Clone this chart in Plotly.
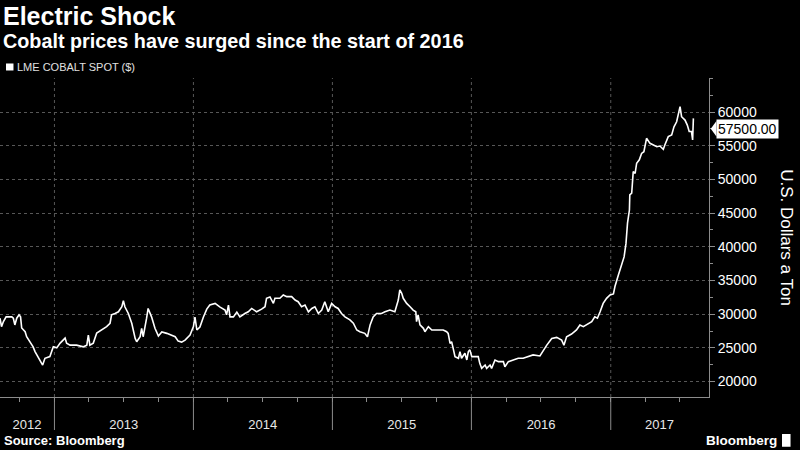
import plotly.graph_objects as go

# ---- data ----
dates = [
    "2012-08-11", "2012-08-15", "2012-08-20", "2012-08-27", "2012-09-11", "2012-09-15", "2012-09-19", "2012-09-24",
    "2012-09-30", "2012-10-04", "2012-10-07", "2012-10-16", "2012-10-20", "2012-10-29", "2012-11-06", "2012-11-11",
    "2012-11-20", "2012-12-01", "2012-12-07", "2012-12-20", "2012-12-29", "2013-01-07", "2013-01-16", "2013-01-24",
    "2013-01-29", "2013-02-02", "2013-02-11", "2013-02-28", "2013-03-18", "2013-03-27", "2013-03-31", "2013-04-04",
    "2013-04-13", "2013-04-22", "2013-05-05", "2013-05-18", "2013-05-27", "2013-05-31", "2013-06-09", "2013-06-18",
    "2013-06-27", "2013-07-01", "2013-07-05", "2013-07-14", "2013-07-23", "2013-08-01", "2013-08-05", "2013-08-14",
    "2013-08-18", "2013-08-22", "2013-08-31", "2013-09-04", "2013-09-13", "2013-09-22", "2013-10-01", "2013-10-10",
    "2013-10-23", "2013-11-05", "2013-11-14", "2013-11-22", "2013-12-01", "2013-12-10", "2013-12-23", "2014-01-01",
    "2014-01-05", "2014-01-10", "2014-01-18", "2014-01-27", "2014-02-05", "2014-02-13", "2014-02-27", "2014-03-12",
    "2014-03-25", "2014-03-29", "2014-04-03", "2014-04-07", "2014-04-16", "2014-04-25", "2014-05-03", "2014-05-16",
    "2014-05-25", "2014-06-03", "2014-06-16", "2014-06-29", "2014-07-08", "2014-07-12", "2014-07-21", "2014-07-30",
    "2014-08-03", "2014-08-16", "2014-08-25", "2014-09-03", "2014-09-16", "2014-09-25", "2014-10-03", "2014-10-12",
    "2014-10-21", "2014-10-30", "2014-11-08", "2014-11-16", "2014-11-25", "2014-12-04", "2014-12-12", "2014-12-21",
    "2014-12-30", "2015-01-08", "2015-01-16", "2015-01-25", "2015-02-03", "2015-02-16", "2015-02-25", "2015-03-06",
    "2015-03-14", "2015-03-27", "2015-04-03", "2015-04-10", "2015-04-18", "2015-04-27", "2015-05-10", "2015-05-19",
    "2015-06-01", "2015-06-14", "2015-06-23", "2015-06-27", "2015-07-02", "2015-07-06", "2015-07-15", "2015-07-24",
    "2015-08-01", "2015-08-08", "2015-08-10", "2015-08-14", "2015-08-19", "2015-08-28", "2015-09-01", "2015-09-10",
    "2015-09-19", "2015-10-06", "2015-10-19", "2015-10-28", "2015-11-01", "2015-11-06", "2015-11-10", "2015-11-14",
    "2015-11-19", "2015-11-28", "2015-12-02", "2015-12-06", "2015-12-15", "2015-12-20", "2015-12-24", "2015-12-28",
    "2016-01-02", "2016-01-19", "2016-01-23", "2016-01-28", "2016-02-06", "2016-02-10", "2016-02-19", "2016-02-23",
    "2016-03-03", "2016-03-12", "2016-03-25", "2016-03-29", "2016-04-07", "2016-04-20", "2016-05-03", "2016-05-16",
    "2016-05-29", "2016-06-11", "2016-06-29", "2016-07-08", "2016-07-17", "2016-07-30", "2016-08-12", "2016-08-25",
    "2016-08-31", "2016-09-07", "2016-09-20", "2016-10-03", "2016-10-12", "2016-10-21", "2016-11-03", "2016-11-12",
    "2016-11-20", "2016-11-27", "2016-12-04", "2016-12-12", "2016-12-21", "2016-12-30", "2017-01-08", "2017-01-12",
    "2017-01-21", "2017-01-30", "2017-02-05", "2017-02-10", "2017-02-14", "2017-02-19", "2017-02-20", "2017-02-25",
    "2017-03-01", "2017-03-06", "2017-03-10", "2017-03-17", "2017-03-23", "2017-03-29", "2017-04-03", "2017-04-05",
    "2017-04-14", "2017-04-23", "2017-05-02", "2017-05-10", "2017-05-19", "2017-05-23", "2017-06-01", "2017-06-10",
    "2017-06-16", "2017-06-23", "2017-06-27", "2017-07-02", "2017-07-06", "2017-07-15", "2017-07-21", "2017-07-26",
    "2017-08-01", "2017-08-04", "2017-08-06",
]
prices = [
    29400, 28150, 28900, 29600, 29600, 29400, 28400, 29400,
    29900, 29600, 27950, 27400, 26650, 25900, 25150, 24450,
    23450, 22450, 23450, 23700, 25150, 25000, 25700, 26150,
    26450, 25700, 25400, 25400, 25150, 25400, 26900, 25400,
    25700, 27200, 27650, 28150, 28650, 29900, 30100, 30350,
    31100, 32000, 31100, 30100, 28650, 26400, 25900, 26650,
    27900, 26650, 29400, 30850, 29600, 27900, 26750, 27350,
    27150, 26900, 26650, 26000, 25850, 26150, 26900, 28150,
    29550, 27650, 28100, 29550, 30750, 31350, 31600, 31050,
    30600, 29900, 31350, 29600, 29600, 30300, 29600, 30100,
    30350, 30850, 30350, 30750, 31100, 32350, 32550, 31600,
    32350, 32350, 32850, 32600, 32600, 32100, 31850, 31100,
    31350, 30350, 30850, 31100, 30100, 30600, 31850, 30350,
    31600, 31100, 30850, 30100, 29600, 29150, 28650, 27650,
    27400, 27150, 26650, 28400, 29600, 30100, 30100, 30350,
    30600, 30350, 32100, 33600, 33100, 32350, 31600, 31100,
    30600, 30350, 28900, 29900, 28400, 27900, 27400, 28150,
    27650, 27650, 27650, 27400, 27150, 25650, 25900, 24950,
    23700, 23450, 24450, 23450, 24200, 23200, 24450, 24700,
    23700, 23700, 22700, 21950, 22450, 21950, 22450, 21950,
    23200, 22950, 22950, 22200, 22950, 23200, 23450, 23450,
    23700, 23950, 23800, 24700, 25400, 26400, 26550, 26150,
    25400, 26650, 27050, 27650, 28400, 28150, 28650, 28900,
    29600, 29400, 30350, 31600, 32350, 32850, 33000, 34100,
    35800, 37300, 38500, 40500, 43500, 45450, 47700, 47950,
    51150, 50900, 52400, 52900, 53850, 54100, 55350, 56100,
    55350, 55100, 54850, 54950, 54450, 55100, 56350, 56600,
    57800, 58550, 59550, 60800, 59300, 58800, 58050, 57100,
    57100, 55850, 59050,
]
last_value = 57500.00

year_labels = ["2012", "2013", "2014", "2015", "2016", "2017"]
year_label_dates = ["2012-10-21", "2013-07-02", "2014-07-02", "2015-07-02", "2016-07-02", "2017-05-09"]
year_starts = ["2013-01-01", "2014-01-01", "2015-01-01", "2016-01-01", "2017-01-01"]
y_ticks = [20000, 25000, 30000, 35000, 40000, 45000, 50000, 55000, 60000]

x_range = ["2012-08-11", "2017-09-16"]
y_range = [17706, 65046]

title = "Electric Shock"
subtitle = "Cobalt prices have surged since the start of 2016"
legend_text = "LME COBALT SPOT ($)"
y_title = "U.S. Dollars a Ton"
source = "Source: Bloomberg"

FONT = "Liberation Sans, Arial, sans-serif"
GRID = "#575757"
AXIS = "#8c8c8c"

fig = go.Figure()
fig.add_trace(go.Scatter(
    x=dates, y=prices, mode="lines",
    line=dict(color="white", width=1.6),
    showlegend=False, hoverinfo="skip",
))

fig.update_layout(
    width=800, height=450,
    margin=dict(l=0, r=91, t=78, b=53),
    paper_bgcolor="black", plot_bgcolor="black",
    font=dict(family=FONT, color="white"),
    showlegend=False,
)

fig.update_xaxes(
    type="date", range=x_range,
    tickmode="array", tickvals=year_label_dates, ticktext=year_labels,
    ticks="outside", ticklen=15, tickcolor="rgba(0,0,0,0)",
    tickfont=dict(size=13, color="#e8e8e8"),
    showgrid=False, zeroline=False,
    showline=True, linecolor=AXIS, linewidth=1,
    minor=dict(ticks="outside", dtick="M3", tick0="2012-01-01",
               ticklen=4, tickcolor=AXIS, showgrid=False),
)

fig.update_yaxes(
    side="right", range=y_range,
    tickmode="array", tickvals=y_ticks, tickformat="d",
    ticks="outside", ticklen=5, tickcolor=AXIS,
    tickfont=dict(size=14, color="white"),
    showgrid=True, gridcolor=GRID, griddash="dot", gridwidth=1,
    zeroline=False, showline=True, linecolor=AXIS, linewidth=1,
    minor=dict(ticks="outside", dtick=2500, tick0=0, ticklen=3,
               tickcolor=AXIS, showgrid=False),
)

shapes = []
for ys in year_starts:
    shapes.append(dict(type="line", xref="x", yref="paper", x0=ys, x1=ys, y0=0, y1=1,
                       line=dict(color=GRID, width=1, dash="dot"), layer="below"))
    shapes.append(dict(type="line", xref="x", yref="paper", x0=ys, x1=ys, y0=-0.1034, y1=0,
                       line=dict(color=AXIS, width=1)))
# pointer of the last-value tag
shapes.append(dict(type="path", xref="paper", yref="y",
                   path=f"M 1.0025 {last_value} L 1.0105 {last_value + 1150} L 1.0105 {last_value - 1150} Z",
                   fillcolor="white", line=dict(width=0)))
# legend swatch
shapes.append(dict(type="rect", xref="paper", yref="paper",
                   x0=0.0085, x1=0.0190, y0=1.0235, y1=1.0455,
                   fillcolor="white", line=dict(width=0)))
# logo glyph
shapes.append(dict(type="rect", xref="paper", yref="paper",
                   x0=1.1030, x1=1.1150, y0=-0.1560, y1=-0.1160,
                   fillcolor="white", line=dict(width=0)))
fig.update_layout(shapes=shapes)

ann = [
    dict(text=f"<b>{title}</b>", x=0, y=1.194, xref="paper", yref="paper",
         xanchor="left", yanchor="middle", xshift=1, showarrow=False,
         font=dict(size=25, color="white", family=FONT)),
    dict(text=f"<b>{subtitle}</b>", x=0, y=1.116, xref="paper", yref="paper",
         xanchor="left", yanchor="middle", xshift=1, showarrow=False,
         font=dict(size=19.8, color="white", family=FONT)),
    dict(text=legend_text, x=0.0215, y=1.034, xref="paper", yref="paper",
         xanchor="left", yanchor="middle", showarrow=False,
         font=dict(size=11, color="#e0e0e0", family=FONT)),
    dict(text=y_title, x=1.110, y=0.498, xref="paper", yref="paper",
         xanchor="center", yanchor="middle", textangle=90, showarrow=False,
         font=dict(size=17, color="white", family=FONT)),
    dict(text=f"<b>{source}</b>", x=0, y=-0.135, xref="paper", yref="paper",
         xanchor="left", yanchor="middle", xshift=2, showarrow=False,
         font=dict(size=13, color="white", family=FONT)),
    dict(text="<b>Bloomberg</b>", x=1.0987, y=-0.135, xref="paper", yref="paper",
         xanchor="right", yanchor="middle", showarrow=False,
         font=dict(size=13.5, color="white", family=FONT)),
    dict(text=f"{last_value:.2f}", x=1, y=last_value, xref="paper", yref="y",
         xanchor="left", yanchor="middle", xshift=7, showarrow=False,
         bgcolor="white", borderpad=1,
         font=dict(size=14, color="black", family=FONT)),
]
fig.update_layout(annotations=ann)

fig.write_html("out.html")
